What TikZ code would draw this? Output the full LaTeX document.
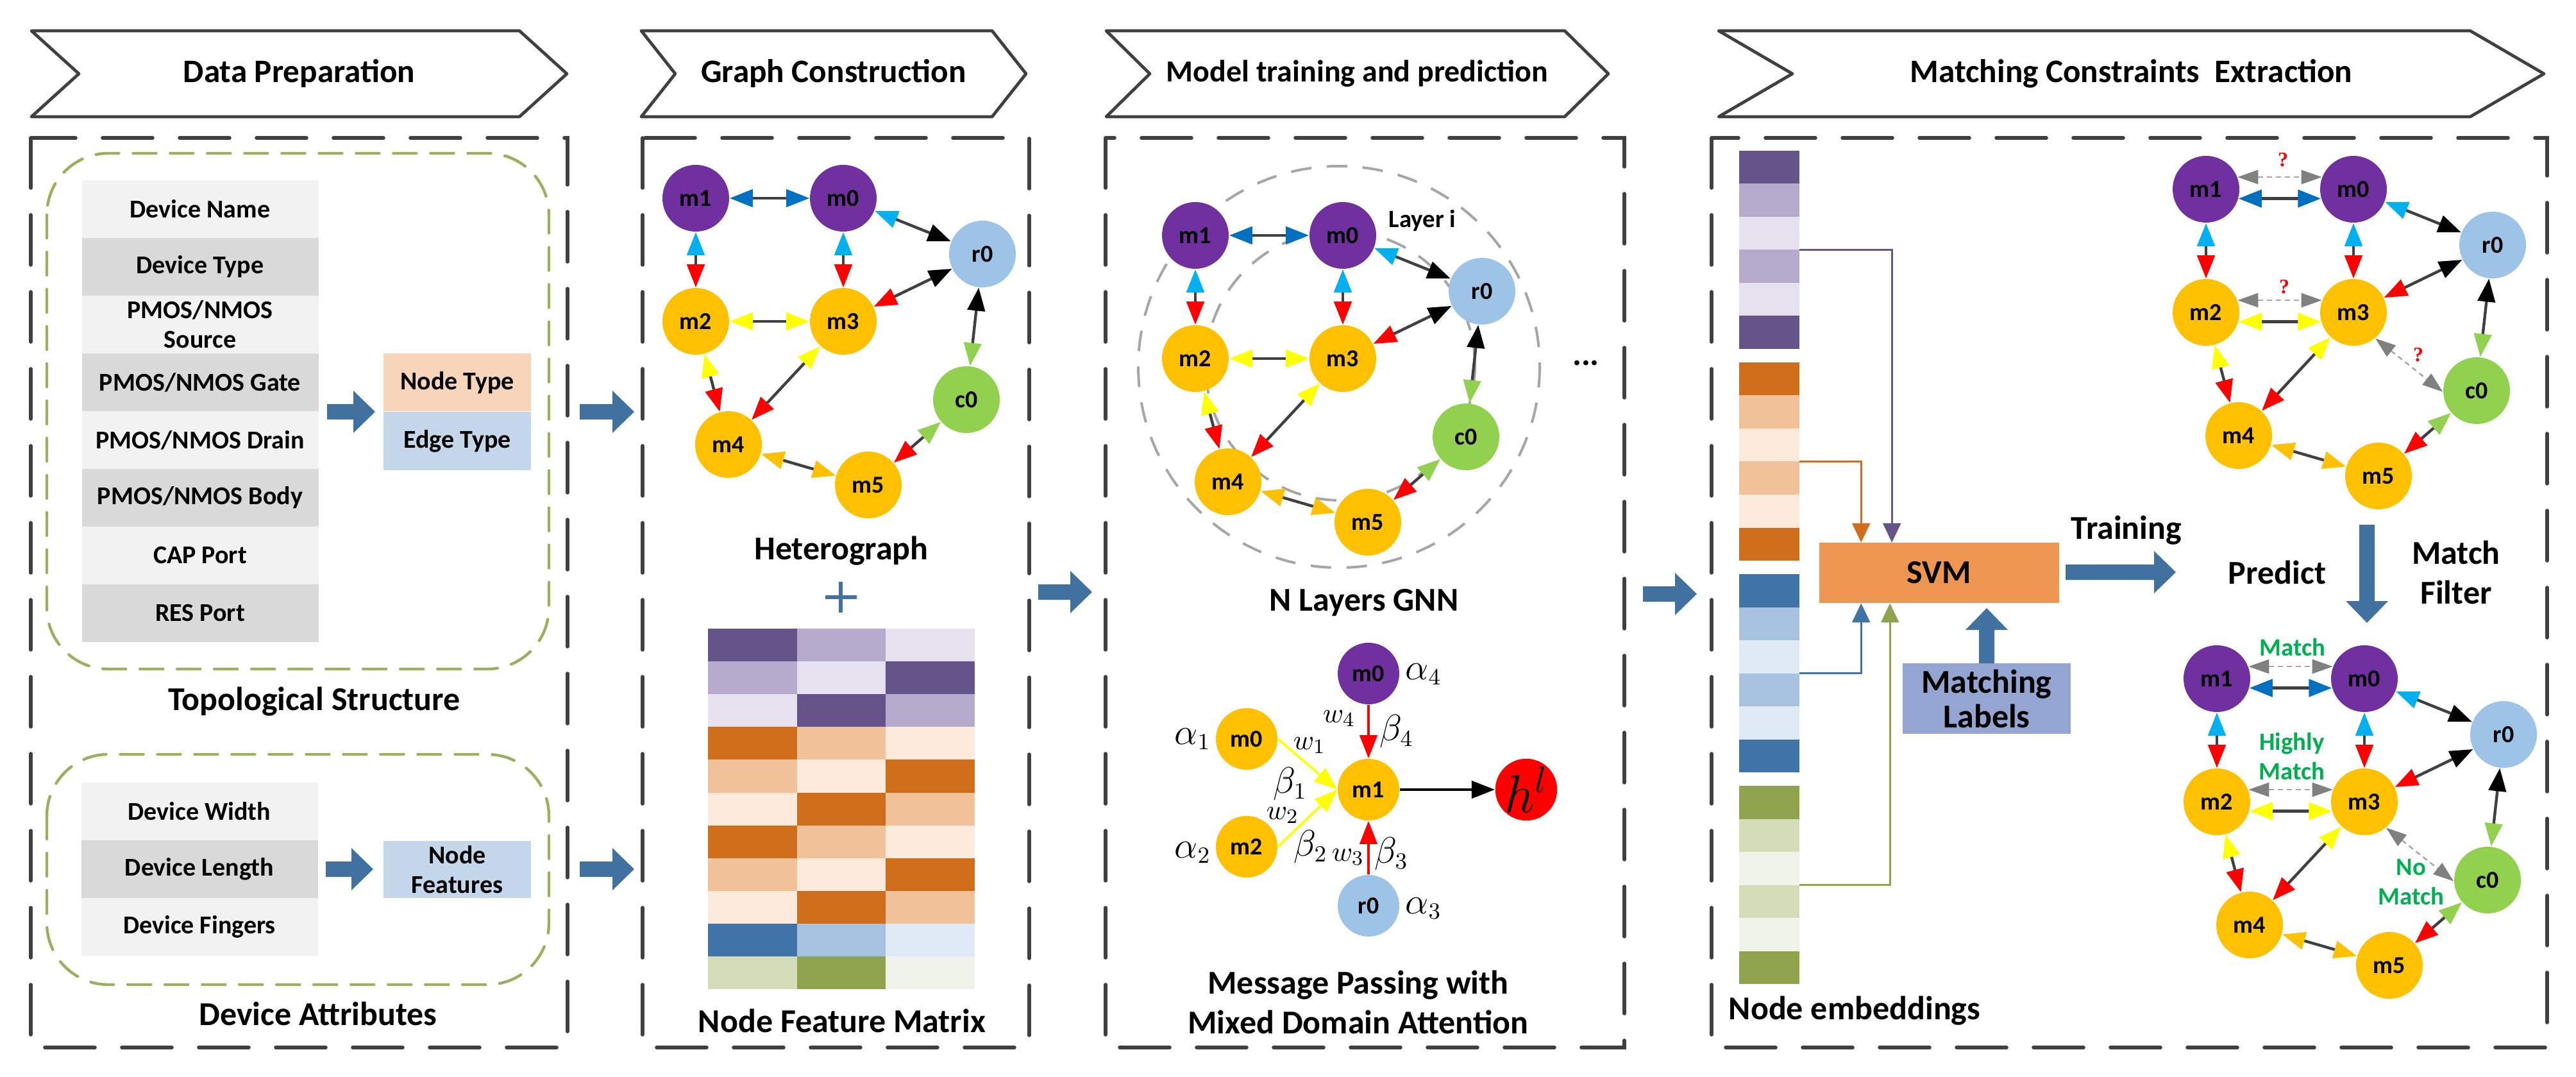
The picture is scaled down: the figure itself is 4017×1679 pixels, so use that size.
\documentclass[tikz,border=0pt]{standalone}
\usepackage{fontspec}
\setmainfont{Carlito}
\newfontfamily\serffont{Liberation Serif}
\usetikzlibrary{arrows.meta,calc}

\definecolor{frame}{HTML}{404040}
\definecolor{grpgreen}{HTML}{9BAF5E}
\definecolor{rowL}{HTML}{F2F2F2}
\definecolor{rowD}{HTML}{D9D9D9}
\definecolor{peach}{HTML}{F8D5B9}
\definecolor{paleblue}{HTML}{C3D6EA}
\definecolor{arrowblue}{HTML}{41729F}
\definecolor{vpurple}{HTML}{7030A0}
\definecolor{vorange}{HTML}{FFC000}
\definecolor{vblue}{HTML}{9DC3E6}
\definecolor{vgreen}{HTML}{92D050}
\definecolor{tcyan}{HTML}{00B0F0}
\definecolor{tdark}{HTML}{0070C0}
\definecolor{tyellow}{HTML}{FFFF00}
\definecolor{tred}{HTML}{FF0000}
\definecolor{tgray}{HTML}{808080}
\definecolor{okgreen}{HTML}{00B050}
\definecolor{svmfill}{HTML}{EC9651}
\definecolor{labfill}{HTML}{94A5D2}
\definecolor{ringgray}{HTML}{A6A6A6}
\definecolor{pD}{HTML}{645489}
\definecolor{pM}{HTML}{B6AACC}
\definecolor{pL}{HTML}{E5E1EE}
\definecolor{oD}{HTML}{D06D1A}
\definecolor{oM}{HTML}{F1C199}
\definecolor{oL}{HTML}{FBEADA}
\definecolor{bD}{HTML}{4174A6}
\definecolor{bM}{HTML}{A7C2DE}
\definecolor{bL}{HTML}{DFEAF4}
\definecolor{gD}{HTML}{8FA34F}
\definecolor{gM}{HTML}{D3DCB6}
\definecolor{gL}{HTML}{EFF2E8}

% header chevron: name, left x, right x, depth, text
\newcommand{\chevron}[5]{%
    \draw[chev] (#2,48) -- (#3-#4,48) -- (#3,115) -- (#3-#4,182)
        -- (#2,182) -- (#2+#4,115) -- cycle;
    \node[hdtext] (#1) at ({(#2+#3)/2},115) {#5};}

% block arrows: from x #1 to x #2 at height #3 / at x #1 from y #2 to y #3
\newcommand{\harrow}[3]{%
    \fill[arrowblue] (#1,#3-12) -- (#2-34,#3-12) -- (#2-34,#3-33) -- (#2,#3)
        -- (#2-34,#3+33) -- (#2-34,#3+12) -- (#1,#3+12) -- cycle;}
\newcommand{\varrow}[3]{%
    \pgfmathsetmacro{\tipbase}{#3-34*sign(#3-#2)}
    \fill[arrowblue] (#1-12,#2) -- (#1-12,\tipbase) -- (#1-33,\tipbase) -- (#1,#3)
        -- (#1+33,\tipbase) -- (#1+12,\tipbase) -- (#1+12,#2) -- cycle;}

% the circuit heterograph, m1 at the origin of the scope
% #1/#2: border angles of the two horizontal links
\newcommand{\hetgraph}[2]{%
    \node[vtx, fill=vpurple] (m1) at (0,0) {m1};
    \node[vtx, fill=vpurple] (m0) at (230,0) {m0};
    \node[vtx, fill=vblue] (r0) at (447,87) {r0};
    \node[vtx, fill=vorange] (m2) at (0,192) {m2};
    \node[vtx, fill=vorange] (m3) at (230,192) {m3};
    \node[vtx, fill=vgreen] (c0) at (422,314) {c0};
    \node[vtx, fill=vorange] (m4) at (51,384) {m4};
    \node[vtx, fill=vorange] (m5) at (269,447) {m5};
    \draw[link, {tipD}-{tipD}] (m1.#1) -- (m0.#2);
    \draw[link, {tipC}-{tipK}] (m0) -- (r0);
    \draw[link, {tipC}-{tipR}] (m1) -- (m2);
    \draw[link, {tipC}-{tipR}] (m0) -- (m3);
    \draw[link, {tipY}-{tipY}] (m2.#1) -- (m3.#2);
    \draw[link, {tipR}-{tipK}] (m3) -- (r0);
    \draw[link, {tipK}-{tipG}] (r0) -- (c0);
    \draw[link, {tipY}-{tipR}] (m2) -- (m4);
    \draw[link, {tipY}-{tipR}] (m3) -- (m4);
    \draw[link, {tipG}-{tipR}] (c0) -- (m5);
    \draw[link, {tipO}-{tipO}] (m4) -- (m5);}

\begin{document}
\begin{tikzpicture}[x=0.25pt,y=-0.25pt]

    \useasboundingbox (0,0) rectangle (4017,1679);

    \tikzstyle{panel} = [draw=frame, line width=1.4pt, line cap=round,
        dash pattern=on 19.5pt off 10.5pt]
    \tikzstyle{grpbox} = [draw=grpgreen, line width=1.1pt, line cap=round,
        dash pattern=on 9pt off 5.5pt, rounded corners=24pt]
    \tikzstyle{chev} = [draw=frame, fill=white, line width=1.2pt, line join=round]
    \tikzstyle{hdtext} = [font=\bfseries\fontsize{12.8}{14}\selectfont]
    \tikzstyle{rowbox} = [minimum width=92.25pt, minimum height=22.5pt,
        inner sep=0pt, align=center, font=\bfseries\fontsize{10}{11.5}\selectfont]
    \tikzstyle{tagbox} = [minimum width=57.5pt, minimum height=22.5pt,
        inner sep=0pt, align=center, font=\bfseries\fontsize{10}{11.5}\selectfont]
    \tikzstyle{capt} = [font=\bfseries\fontsize{13}{15.5}\selectfont, align=center]
    \tikzstyle{vtx} = [circle, minimum size=26pt, inner sep=0pt,
        font=\bfseries\fontsize{9.5}{11}\selectfont]
    \tikzstyle{link} = [draw=frame, line width=1.1pt]
    \tikzstyle{guess} = [draw=ringgray, line width=0.6pt, dash pattern=on 2pt off 1.5pt]
    \tikzstyle{ring} = [draw=ringgray, line width=1pt, dash pattern=on 8pt off 6pt]
    \tikzstyle{wgt} = [font=\fontsize{13.5}{15}\selectfont, inner sep=0pt]
    \tikzstyle{wsm} = [font=\fontsize{11}{13}\selectfont, inner sep=0pt]
    \tikzstyle{qmark} = [font=\serffont\bfseries\fontsize{8}{9}\selectfont, text=tred, inner sep=0pt]
    \tikzstyle{verdict} = [font=\bfseries\fontsize{9.7}{11.5}\selectfont, text=okgreen,
        align=center, inner sep=0pt]
    \tikzstyle{feed} = [line width=0.7pt]
    \tikzset{
        tipK/.tip={Triangle[color=black, length=9pt, width=6.8pt]},
        tipR/.tip={Triangle[color=tred, length=9pt, width=6.8pt]},
        tipY/.tip={Triangle[color=tyellow, length=9pt, width=6.8pt]},
        tipC/.tip={Triangle[color=tcyan, length=9pt, width=6.8pt]},
        tipD/.tip={Triangle[color=tdark, length=9pt, width=6.8pt]},
        tipG/.tip={Triangle[color=vgreen, length=9pt, width=6.8pt]},
        tipO/.tip={Triangle[color=vorange, length=9pt, width=6.8pt]},
        tipS/.tip={Triangle[color=tgray, length=8pt, width=5.5pt]},
    }

    % Headers
    \chevron{hd1}{49}{884}{74}{Data Preparation}
    \chevron{hd2}{1000}{1600}{53}{Graph Construction}
    \chevron{hd3}{1725}{2508}{68}{\fontsize{12}{14}\selectfont Model training and prediction}
    \chevron{hd4}{2680}{3967}{115}{Matching Constraints\ \ Extraction}

    % Panels
    \draw[panel] (48,215) rectangle (885,1633);
    \draw[panel] (1002,215) rectangle (1605,1633);
    \draw[panel] (1724,215) rectangle (2533,1633);
    \draw[panel] (2669,215) rectangle (3972,1633);

    % Data preparation
    \draw[grpbox] (73,239) rectangle (856,1043);
    \draw[grpbox] (73,1176) rectangle (856,1535);

    \node[rowbox, fill=rowL] (t1) at (312,326) {Device Name};
    \node[rowbox, fill=rowD] (t2) at (312,416) {Device Type};
    \node[rowbox, fill=rowL] (t3) at (312,506) {PMOS/NMOS\\Source};
    \node[rowbox, fill=rowD] (t4) at (312,596) {PMOS/NMOS Gate};
    \node[rowbox, fill=rowL] (t5) at (312,686) {PMOS/NMOS Drain};
    \node[rowbox, fill=rowD] (t6) at (312,776) {PMOS/NMOS Body};
    \node[rowbox, fill=rowL] (t7) at (312,866) {CAP Port};
    \node[rowbox, fill=rowD] (t8) at (312,956) {RES Port};
    \node[tagbox, fill=peach] (ntype) at (713,596.5) {Node Type};
    \node[tagbox, fill=paleblue] (etype) at (713,687.5) {Edge Type};
    \node[capt] (topo) at (490,1094) {Topological Structure};

    \node[rowbox, fill=rowL] (d1) at (311,1265) {Device Width};
    \node[rowbox, fill=rowD] (d2) at (311,1355) {Device Length};
    \node[rowbox, fill=rowL] (d3) at (311,1445) {Device Fingers};
    \node[tagbox, fill=paleblue, minimum height=22.25pt] (nfeat) at (713,1355.5) {Node\\Features};
    \node[capt] (attr) at (496,1580) {Device Attributes};

    \harrow{510}{585}{642}
    \harrow{508}{582}{1355}
    \harrow{904}{989}{642}
    \harrow{904}{989}{1355}

    % Graph construction
    \begin{scope}[shift={(1085,309)}, name prefix=g1-]
        \hetgraph{0}{180}
    \end{scope}
    \node[capt] (hetero) at (1312,859) {Heterograph};
    \draw[arrowblue, line width=1.3pt] (1287,931) -- (1336,931) (1311,907) -- (1311,955);

    \foreach \ca/\cb/\cc [count=\ri from 0] in {pD/pM/pL, pM/pL/pD, pL/pD/pM,
            oD/oM/oL, oM/oL/oD, oL/oD/oM, oD/oM/oL, oM/oL/oD, oL/oD/oM,
            bD/bM/bL, gM/gD/gL} {
        \fill[fill=\ca] (1104,980+51.1*\ri) rectangle +(138.7,51.1);
        \fill[fill=\cb] (1242.7,980+51.1*\ri) rectangle +(138.7,51.1);
        \fill[fill=\cc] (1381.4,980+51.1*\ri) rectangle +(138.6,51.1);
    }
    \node[capt] (featm) at (1313,1591) {Node Feature Matrix};

    \harrow{1619}{1703}{923}

    % Model training: N layers
    \draw[ring] (2088,572) circle [radius=313];
    \draw[ring] (2090,570) circle [radius=210];
    \begin{scope}[shift={(1864,367)}, name prefix=g2-]
        \hetgraph{0}{180}
    \end{scope}
    \node[font=\bfseries\fontsize{9.7}{11}\selectfont] (layer) at (2218,344) {Layer i};
    \node[font=\bfseries\fontsize{13}{15}\selectfont] (dots) at (2473,566) {...};
    \node[capt] (gnn) at (2127,940) {N Layers GNN};

    % Message passing
    \node[vtx, minimum size=24pt, fill=vpurple] (p-top) at (2134,1050) {m0};
    \node[vtx, minimum size=24pt, fill=vorange] (p-a) at (1944,1152) {m0};
    \node[vtx, minimum size=24pt, fill=vorange] (p-b) at (1944,1320) {m2};
    \node[vtx, minimum size=24pt, fill=vorange] (p-c) at (2134,1231) {m1};
    \node[vtx, minimum size=24pt, fill=vblue] (p-d) at (2134,1412) {r0};
    \node[vtx, minimum size=24pt, fill=tred, font=\fontsize{20}{22}\selectfont] (p-h) at (2380,1231) {$h^l$};

    \draw[line width=0.9pt, draw=tyellow, -{tipY}] (p-a.east) -- (p-c.west);
    \draw[line width=0.9pt, draw=tyellow, -{tipY}] (p-b.east) -- (p-c.west);
    \draw[line width=0.9pt, draw=tred, -{tipR}] (p-top) -- (p-c);
    \draw[line width=0.9pt, draw=tred, -{tipR}] (p-d) -- (p-c);
    \draw[line width=0.9pt, draw=black, -{tipK}] (p-c) -- (p-h);

    \node[wgt] (al1) at (1860,1152) {$\alpha_1$};
    \node[wgt] (al2) at (1860,1329) {$\alpha_2$};
    \node[wgt] (al3) at (2220,1416) {$\alpha_3$};
    \node[wgt] (al4) at (2220,1051) {$\alpha_4$};
    \node[wsm] (w1) at (2042,1162) {$w_1$};
    \node[wsm] (w2) at (2000,1271) {$w_2$};
    \node[wsm] (w3) at (2102,1336) {$w_3$};
    \node[wsm] (w4) at (2088,1120) {$w_4$};
    \node[wgt] (be1) at (2012,1222) {$\beta_1$};
    \node[wgt] (be2) at (2044,1320) {$\beta_2$};
    \node[wgt] (be3) at (2170,1331) {$\beta_3$};
    \node[wgt] (be4) at (2178,1140) {$\beta_4$};
    \node[capt] (mpass) at (2118,1562) {Message Passing with\\Mixed Domain Attention};

    \harrow{2562}{2646}{926}

    % Node embeddings
    \foreach \grp [count=\gi from 0] in {p,o,b,g} {
        \foreach \sh [count=\ri from 0] in {D,M,L,M,L,D}
            \fill[fill=\grp\sh] (2712,235+330*\gi+51.5*\ri) rectangle +(94,51.5);
    }
    \coordinate (ep) at (2806,389.5);
    \coordinate (eo) at (2806,719.5);
    \coordinate (eb) at (2806,1049.5);
    \coordinate (eg) at (2806,1379.5);
    \node[capt, anchor=west, inner sep=0pt] (emb) at (2695,1576) {Node embeddings};

    % SVM
    \node[fill=svmfill, minimum width=93.5pt, minimum height=23.3pt, inner sep=0pt,
        font=\bfseries\fontsize{13}{15}\selectfont] (svm) at (3024,893) {SVM};
    \node[fill=labfill, minimum width=65.5pt, minimum height=27.5pt, inner sep=0pt,
        align=center, font=\bfseries\fontsize{13}{13.5}\selectfont] (mlab) at (3098,1089) {Matching\\Labels};

    \draw[feed, draw=pD, -{Triangle[color=pD, length=7.5pt, width=7pt]}]
        (ep) -| ($(svm.north west)+(114,0)$);
    \draw[feed, draw=oD, -{Triangle[color=oD, length=7.5pt, width=7pt]}]
        (eo) -| ($(svm.north west)+(66,0)$);
    \draw[feed, draw=bD, -{Triangle[color=bD, length=7.5pt, width=7pt]}]
        (eb) -| ($(svm.south west)+(66,0)$);
    \draw[feed, draw=gD, -{Triangle[color=gD, length=7.5pt, width=7pt]}]
        (eg) -| ($(svm.south west)+(111,0)$);

    \varrow{3098}{1034}{948}
    \harrow{3221}{3393}{892}
    \varrow{3691}{818}{971}
    \node[capt] (train) at (3316,827) {Training};
    \node[capt] (pred) at (3551,892) {Predict};
    \node[capt] (filt) at (3830,892) {Match\\Filter};

    % Predicted graph
    \begin{scope}[shift={(3440,295)}, name prefix=g3-]
        \hetgraph{-16}{196}
    \end{scope}
    \draw[guess, {tipS}-{tipS}] (g3-m1.21) -- (g3-m0.159);
    \draw[guess, {tipS}-{tipS}] (g3-m2.21) -- (g3-m3.159);
    \draw[guess, {tipS}-{tipS}] (g3-m3.-50) -- (g3-c0.182);
    \node[qmark] (q1) at (3560,249) {?};
    \node[qmark] (q2) at (3562,447) {?};
    \node[qmark] (q3) at (3771,553) {?};

    % Filtered graph
    \begin{scope}[shift={(3457,1058)}, name prefix=g4-]
        \hetgraph{-16}{196}
    \end{scope}
    \draw[guess, {tipS}-{tipS}] (g4-m1.21) -- (g4-m0.159);
    \draw[guess, {tipS}-{tipS}] (g4-m2.21) -- (g4-m3.159);
    \draw[guess, {tipS}-{tipS}] (g4-m3.-50) -- (g4-c0.182);
    \node[verdict] (v1) at (3575,1009) {Match};
    \node[verdict] (v2) at (3574,1179) {Highly\\Match};
    \node[verdict] (v3) at (3760,1375) {No\\Match};

\end{tikzpicture}
\end{document}
